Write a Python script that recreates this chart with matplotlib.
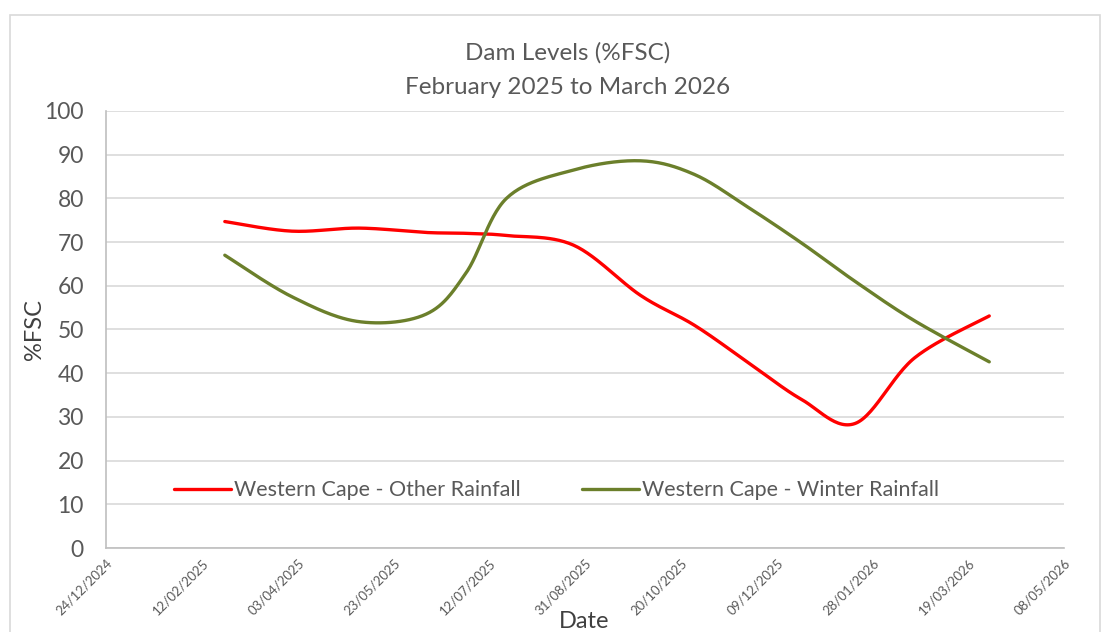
import matplotlib
matplotlib.use("Agg")
import matplotlib.pyplot as plt
import matplotlib.dates as mdates
import numpy as np
import pandas as pd
from matplotlib.patches import Rectangle

plt.rcParams['font.family'] = ['Lato', 'DejaVu Sans']

# data (approximate)
dates = ['2025-02-24', '2025-03-31', '2025-05-05', '2025-06-09', '2025-06-30',
         '2025-07-21', '2025-08-25', '2025-09-29', '2025-10-27', '2025-11-24',
         '2025-12-22', '2026-01-19', '2026-02-19', '2026-03-30']
other_rainfall = [74.7, 72.5, 73.2, 72.2, 72.0, 71.5, 69.3, 57.8, 51.0, 42.5,
                  34.0, 28.5, 43.5, 53.1]
winter_rainfall = [67.0, 57.5, 51.8, 53.5, 63.0, 80.0, 86.5, 88.6, 85.5, 78.0,
                   69.8, 61.0, 52.0, 42.6]
series_names = ['Western Cape - Other Rainfall', 'Western Cape - Winter Rainfall']
tick_start = '2024-12-24'
tick_step_days = 50
n_ticks = 11


def smooth(x, y, n=30):
    """Excel-style smoothed line (uniform Catmull-Rom through the points)."""
    p = np.column_stack([x, y]).astype(float)
    p = np.vstack([p[0], p, p[-1]])
    t = np.linspace(0, 1, n)[:, None]
    out = []
    for i in range(1, len(p) - 2):
        p0, p1, p2, p3 = p[i - 1], p[i], p[i + 1], p[i + 2]
        seg = 0.5 * ((2 * p1) + (-p0 + p2) * t + (2 * p0 - 5 * p1 + 4 * p2 - p3) * t ** 2
                     + (-p0 + 3 * p1 - 3 * p2 + p3) * t ** 3)
        out.append(seg if i == 1 else seg[1:])
    out = np.vstack(out)
    return out[:, 0], out[:, 1]


x = mdates.date2num(pd.to_datetime(dates))
ticks = mdates.date2num(pd.to_datetime(tick_start)) + tick_step_days * np.arange(n_ticks)

fig = plt.figure(figsize=(11.09, 6.32), dpi=100)
ax = fig.add_axes([0.0956, 0.1329, 0.8638, 0.6915])

# outer chart border
fig.patches.append(Rectangle((10 / 1109, -0.05), 1090 / 1109, 1.05 - 15 / 632,
                             transform=fig.transFigure, fill=False,
                             edgecolor='#d9d9d9', linewidth=1.2))

for vals, col, name in [(other_rainfall, '#ff0000', series_names[0]),
                        (winter_rainfall, '#6b7f2b', series_names[1])]:
    sx, sy = smooth(x, vals)
    ax.plot(sx, sy, color=col, linewidth=2.4, label=name, solid_capstyle='round')

ax.set_xlim(ticks[0], ticks[-1])
ax.set_ylim(0, 100)
ax.set_yticks(np.arange(0, 101, 10))
ax.set_xticks(ticks)
ax.set_xticklabels([mdates.num2date(t).strftime('%d/%m/%Y') for t in ticks],
                   rotation=45, ha='right', va='top', rotation_mode='anchor',
                   fontsize=9.5, color='#595959')
ax.tick_params(axis='y', labelsize=16.5, colors='#595959', length=0, pad=16)
ax.tick_params(axis='x', length=0, pad=6)
ax.grid(axis='y', color='#d9d9d9', linewidth=1.2)
ax.set_axisbelow(True)
for s in ['top', 'right']:
    ax.spines[s].set_visible(False)
for s in ['left', 'bottom']:
    ax.spines[s].set_color('#bfbfbf')
    ax.spines[s].set_linewidth(1.2)

# axis titles and chart title placed in figure coords
fig.text(34 / 1109, 1 - 330 / 632, '%FSC', fontsize=17, color='#404040',
         rotation=90, ha='center', va='center')
fig.text(584 / 1109, 1 - 622 / 632, 'Date', fontsize=17, color='#404040',
         ha='center', va='center')
fig.text(0.512, 1 - 53 / 632, 'Dam Levels (%FSC)', fontsize=17.5, color='#595959',
         ha='center', va='center')
fig.text(0.512, 1 - 88 / 632, 'February 2025 to March 2026', fontsize=17.5,
         color='#595959', ha='center', va='center')

ax.legend(loc='lower left', bbox_to_anchor=(0.0595, 0.085), ncol=2, frameon=False,
          fontsize=15.5, handlelength=2.65, handletextpad=0.15, columnspacing=2.85,
          borderpad=0, labelcolor='#595959')

fig.savefig('out.png', dpi=100)
